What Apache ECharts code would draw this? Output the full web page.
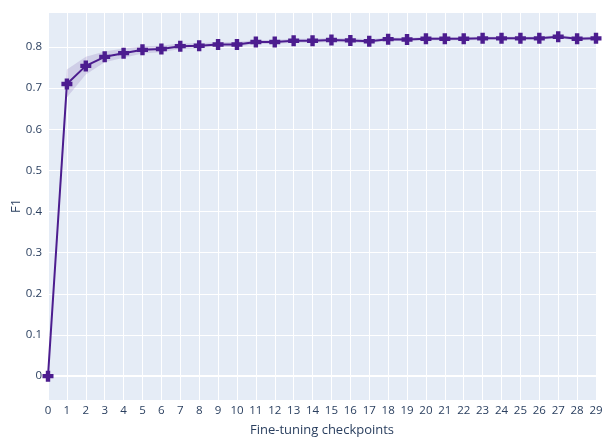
<!DOCTYPE html>
<html>
<head>
<meta charset="utf-8">
<script src="https://cdn.jsdelivr.net/npm/echarts@6/dist/echarts.min.js"></script>
<style>
  html, body { margin: 0; padding: 0; background: #fff; }
  #chart { width: 603px; height: 438px; }
</style>
</head>
<body>
<div id="chart"></div>
<script>
// checkpoints 0..29
const checkpoints = [0, 1, 2, 3, 4, 5, 6, 7, 8, 9, 10, 11, 12, 13, 14, 15,
  16, 17, 18, 19, 20, 21, 22, 23, 24, 25, 26, 27, 28, 29];

// mean F1 per checkpoint
const f1Mean = [0, 0.710, 0.754, 0.776, 0.785, 0.793, 0.795, 0.802, 0.803, 0.806,
  0.806, 0.812, 0.812, 0.815, 0.815, 0.817, 0.816, 0.814, 0.819, 0.818,
  0.820, 0.820, 0.820, 0.821, 0.821, 0.821, 0.821, 0.825, 0.820, 0.821];

// shaded band (lower / upper bound)
const f1Lower = [0, 0.677, 0.733, 0.763, 0.774, 0.784, 0.787, 0.795, 0.797, 0.800,
  0.800, 0.807, 0.807, 0.810, 0.810, 0.812, 0.811, 0.809, 0.815, 0.814,
  0.816, 0.816, 0.816, 0.817, 0.817, 0.817, 0.817, 0.821, 0.816, 0.817];
const f1Upper = [0, 0.745, 0.776, 0.789, 0.796, 0.802, 0.803, 0.809, 0.809, 0.812,
  0.812, 0.817, 0.817, 0.820, 0.820, 0.822, 0.821, 0.819, 0.823, 0.822,
  0.824, 0.824, 0.824, 0.825, 0.825, 0.825, 0.825, 0.829, 0.824, 0.825];

const textColor = '#2a3f5f';
const lineColor = '#4c1d8f';
const font = 'Open Sans, Noto Sans, sans-serif';
// plus marker
const plusPath = 'path://M3,0H7V3H10V7H7V10H3V7H0V3H3Z';

const chart = echarts.init(document.getElementById('chart'));

const option = {
  animation: false,
  grid: {
    left: 48, right: 7, top: 12, bottom: 38,
    outerBoundsMode: 'none',
    show: true,
    backgroundColor: '#E5ECF6',
    borderWidth: 0
  },
  xAxis: {
    type: 'value',
    min: 0,
    max: 29,
    interval: 1,
    name: 'Fine-tuning checkpoints',
    nameLocation: 'middle',
    nameGap: 24,
    nameMoveOverlap: false,
    nameTextStyle: { color: textColor, fontSize: 13, fontFamily: font },
    axisLine: { show: false },
    axisTick: { show: false },
    axisLabel: { color: textColor, fontSize: 11.5, fontFamily: font, margin: 5 },
    splitLine: { lineStyle: { color: '#ffffff', width: 1 } }
  },
  yAxis: {
    type: 'value',
    min: -0.058,
    max: 0.885,
    splitNumber: 9,
    name: 'F1',
    nameLocation: 'middle',
    nameGap: 25,
    nameMoveOverlap: false,
    nameTextStyle: { color: textColor, fontSize: 13, fontFamily: font },
    axisLine: { show: false },
    axisTick: { show: false },
    axisLabel: {
      color: textColor, fontSize: 11.5, fontFamily: font, margin: 6,
      showMinLabel: false, showMaxLabel: false,
      formatter: v => (Math.abs(v) < 1e-9 ? '0' : String(Math.round(v * 10) / 10))
    },
    splitLine: { lineStyle: { color: '#ffffff', width: 1 } }
  },
  series: [
    {
      // shaded band between lower and upper
      type: 'custom',
      silent: true,
      z: 1,
      data: [[0, 0]],
      encode: { x: 0, y: 1 },
      renderItem: function (params, api) {
        const pts = [];
        checkpoints.forEach((c, i) => pts.push(api.coord([c, f1Upper[i]])));
        for (let i = checkpoints.length - 1; i >= 0; i--) {
          pts.push(api.coord([checkpoints[i], f1Lower[i]]));
        }
        return {
          type: 'polygon',
          shape: { points: pts },
          style: { fill: 'rgba(76, 29, 143, 0.14)', stroke: 'none' }
        };
      }
    },
    {
      type: 'line',
      data: checkpoints.map((c, i) => [c, f1Mean[i]]),
      symbol: plusPath,
      symbolSize: 11,
      showAllSymbol: true,
      clip: true,
      itemStyle: { color: lineColor },
      lineStyle: { color: lineColor, width: 2 },
      z: 3,
      markLine: {
        silent: true,
        symbol: 'none',
        label: { show: false },
        lineStyle: { color: '#ffffff', width: 2, type: 'solid' },
        data: [{ yAxis: 0 }],
        z: 2
      }
    }
  ]
};

chart.setOption(option);
</script>
</body>
</html>
